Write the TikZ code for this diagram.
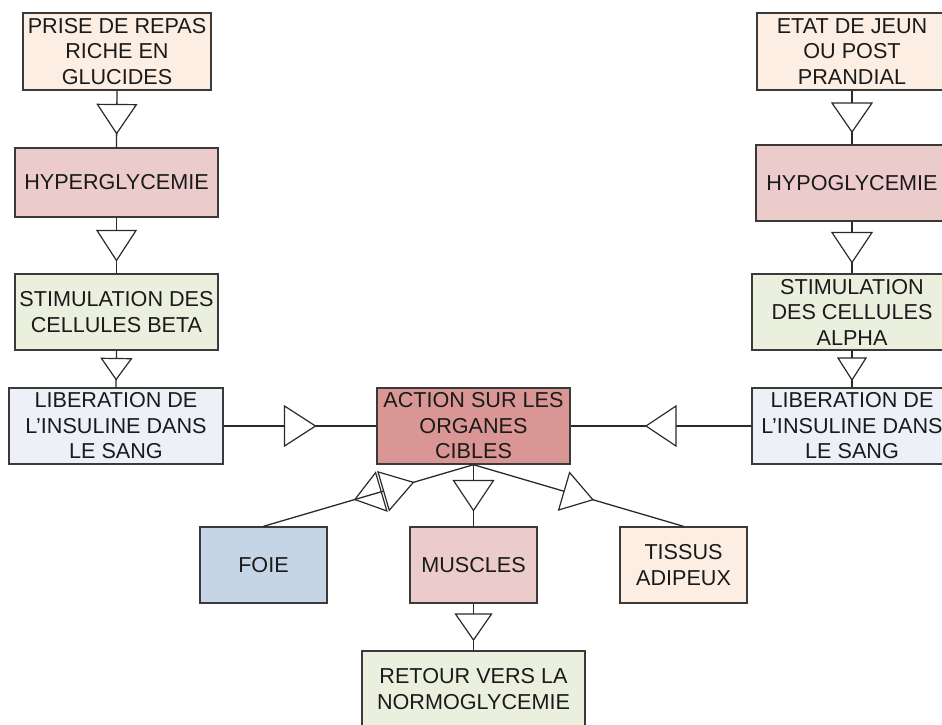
\documentclass[tikz,border=0pt]{standalone}
\usepackage{fontspec}
\setmainfont{Liberation Sans}
\usetikzlibrary{decorations.markings}
\definecolor{peach}{HTML}{FDEEE3}
\definecolor{pinkb}{HTML}{ECCBCB}
\definecolor{greenb}{HTML}{EBF0DE}
\definecolor{libb}{HTML}{EDF1F7}
\definecolor{actb}{HTML}{D99694}
\definecolor{foieb}{HTML}{C6D5E5}
\definecolor{bordc}{HTML}{3A3A3A}
\definecolor{linec}{HTML}{2A2A2A}
\definecolor{txtc}{HTML}{1A1A1A}
\begin{document}
\begin{tikzpicture}[x=1pt,y=-1pt,
  box/.style={draw=bordc, line width=1.4pt, inner sep=0pt, align=center, text=txtc,
    font=\fontsize{21.6pt}{25.5pt}\selectfont},
  conn/.style={draw=linec, line width=1.3pt},
  midtri/.style 2 args={postaction={decorate, decoration={markings,
    mark=at position 0.5 with {\draw[linec, line width=1.2pt, fill=white, line join=miter]
      ({-#1/2*1pt},{-#2/2*1pt}) -- ({#1/2*1pt},0pt) -- ({-#1/2*1pt},{#2/2*1pt}) -- cycle;}}}}
]
\useasboundingbox (0,0) rectangle (942,724);
\clip (0,0) rectangle (942,724);

% left column
\node[box, fill=peach, minimum width=188pt, minimum height=77pt] (p1) at (117,51.5) {PRISE DE REPAS\\RICHE EN\\GLUCIDES};
\node[box, fill=pinkb, minimum width=203pt, minimum height=69pt] (hyper) at (116.5,182.5) {HYPERGLYCEMIE};
\node[box, fill=greenb, minimum width=203pt, minimum height=76pt] (stimb) at (116.5,312) {STIMULATION DES\\CELLULES BETA};
\node[box, fill=libb, minimum width=214pt, minimum height=76pt] (libl) at (116,426) {LIBERATION DE\\L’INSULINE DANS\\LE SANG};

% right column
\node[box, fill=peach, minimum width=190pt, minimum height=77pt] (e1) at (852,51.5) {ETAT DE JEUN\\OU POST\\PRANDIAL};
\node[box, fill=pinkb, minimum width=192pt, minimum height=76pt] (hypo) at (852,183) {HYPOGLYCEMIE};
\node[box, fill=greenb, minimum width=200pt, minimum height=76pt] (stima) at (852,312) {STIMULATION\\DES CELLULES\\ALPHA};
\node[box, fill=libb, minimum width=200pt, minimum height=76pt] (libr) at (852,426) {LIBERATION DE\\L’INSULINE DANS\\LE SANG};

% centre
\node[box, fill=actb, minimum width=193pt, minimum height=76pt] (act) at (473.5,426) {ACTION SUR LES\\ORGANES\\CIBLES};
\node[box, fill=foieb, minimum width=127pt, minimum height=76pt] (foie) at (263.5,565) {FOIE};
\node[box, fill=pinkb, minimum width=127pt, minimum height=76pt] (musc) at (473.5,565) {MUSCLES};
\node[box, fill=peach, minimum width=127pt, minimum height=76pt] (tiss) at (683.5,565) {TISSUS\\ADIPEUX};
\node[box, fill=greenb, minimum width=223pt, minimum height=76pt] (ret) at (473.5,689) {RETOUR VERS LA\\NORMOGLYCEMIE};

% connectors
\draw[conn, midtri={29}{39}] (p1.south) -- (hyper.north);
\draw[conn, midtri={30}{39}] (hyper.south) -- (stimb.north);
\draw[conn, midtri={21}{30}] (stimb.south) -- (libl.north);
\draw[conn, midtri={29}{40}] (e1.south) -- (hypo.north);
\draw[conn, midtri={30}{40}] (hypo.south) -- (stima.north);
\draw[conn, midtri={22}{28}] (stima.south) -- (libr.north);
\draw[conn, midtri={31}{40}] (libl.east) -- (act.west);
\draw[conn, midtri={30}{40}] (libr.west) -- (act.east);
\draw[conn, midtri={30}{40}] (act.south) -- (musc.north);
\draw[conn, midtri={30}{39}] (act.south) -- (tiss.north);
\draw[conn, midtri={26}{36}] (musc.south) -- (ret.north);
\draw[conn, postaction={decorate, decoration={markings,
    mark=at position 0.428 with {
      \draw[linec, line width=1.2pt, fill=white, line join=miter]
        (0pt,-20pt) -- (-31pt,0pt) -- (0pt,20pt) -- cycle;
      \draw[linec, line width=1.2pt, line join=miter]
        (2.5pt,-20pt) -- (30pt,0pt) -- (2.5pt,20pt) -- cycle;}}}]
  (act.south) -- (foie.north);
\end{tikzpicture}
\end{document}
